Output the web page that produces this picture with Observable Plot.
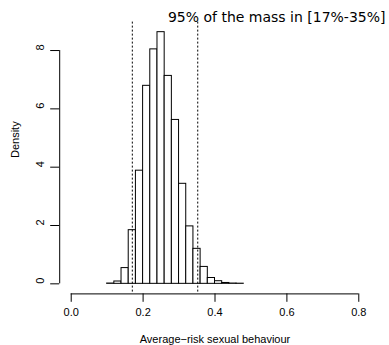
<!DOCTYPE html>
<html>
<head>
<meta charset="utf-8">
<script src="https://cdn.jsdelivr.net/npm/d3@7"></script>
<script src="https://cdn.jsdelivr.net/npm/@observablehq/plot@0.6"></script>
<style>
  html, body { margin: 0; padding: 0; background: white; }
</style>
</head>
<body>
<div id="chart"></div>
<script>
// Histogram breaks (bin edges) and densities
const breaks = [0.10, 0.12, 0.14, 0.16, 0.18, 0.20, 0.22, 0.24, 0.26, 0.28, 0.30,
                0.32, 0.34, 0.36, 0.38, 0.40, 0.42, 0.44, 0.46, 0.48];
const densities = [0.01, 0.08, 0.54, 1.84, 3.88, 6.79, 8.04, 8.63, 7.13, 5.62,
                   3.43, 1.97, 1.20, 0.58, 0.20, 0.09, 0.03, 0.01, 0.005];
// 95% interval bounds
const bounds = [0.17, 0.352];
const xTicks = [0.0, 0.2, 0.4, 0.6, 0.8];
const yTicks = [0, 2, 4, 6, 8];
const title = "95% of the mass in [17%-35%]";
const xLabel = "Average\u2212risk sexual behaviour";
const yLabel = "Density";

const bins = densities.map((d, i) => ({x1: breaks[i], x2: breaks[i + 1], density: d}));

const xMin = -0.032, xMax = 0.832;
const yMax = d3.max(densities);
const yPad = yMax * 0.04;

const chart = Plot.plot({
  width: 389,
  height: 345,
  marginLeft: 59.2,
  marginRight: 19.2,
  marginTop: 21.6,
  marginBottom: 51.6,
  style: {fontFamily: "'Liberation Sans', Arial, sans-serif", fontSize: "11px", background: "white", overflow: "visible"},
  x: {domain: [xMin, xMax]},
  y: {domain: [-yPad, yMax + yPad]},
  marks: [
    Plot.rectY(bins, {x1: "x1", x2: "x2", y: "density", fill: "white", stroke: "black", strokeWidth: 1}),
    Plot.ruleX(bounds, {stroke: "black", strokeWidth: 1, strokeDasharray: "2,2"}),
    // x axis
    Plot.ruleY([-yPad], {x1: xTicks[0], x2: xTicks[xTicks.length - 1], stroke: "black"}),
    Plot.axisX({ticks: xTicks, tickSize: 8.4, tickPadding: 6, tickFormat: d => d.toFixed(1), fontSize: 11, label: null}),
    Plot.text([xLabel], {frameAnchor: "bottom", dy: 45.6, fontSize: 11, lineAnchor: "middle"}),
    // y axis
    Plot.ruleX([xMin], {y1: yTicks[0], y2: yTicks[yTicks.length - 1], stroke: "black"}),
    Plot.axisY({ticks: yTicks, tickSize: 9, tickFormat: () => "", label: null}),
    Plot.text(yTicks, {y: d => d, frameAnchor: "left", dx: -19, rotate: -90, text: d => String(d), fontSize: 11}),
    Plot.text([yLabel], {frameAnchor: "left", dx: -44, rotate: -90, fontSize: 11}),
    // title
    Plot.text([title], {frameAnchor: "top-right", dx: 15.2, dy: -4.6, textAnchor: "end", lineAnchor: "middle", fontSize: 14, fontFamily: "'DejaVu Sans', sans-serif"})
  ]
});
document.getElementById("chart").appendChild(chart);
</script>
</body>
</html>
